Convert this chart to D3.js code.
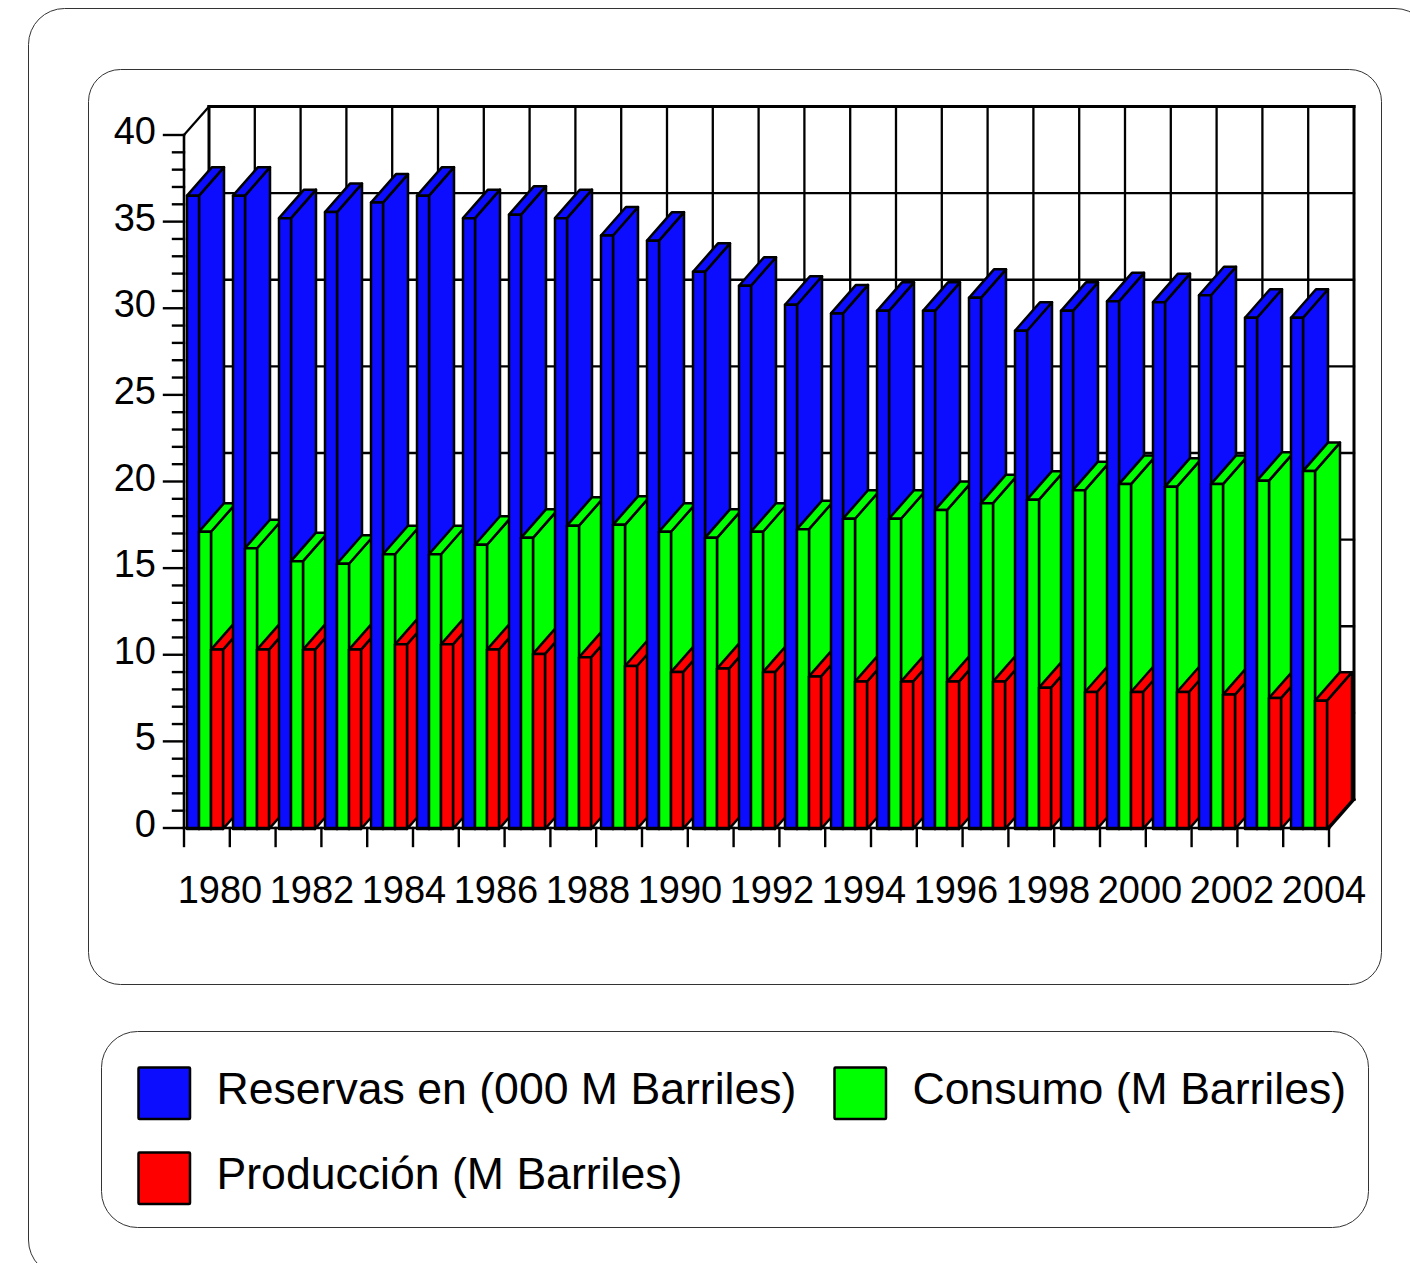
<!DOCTYPE html>
<html><head><meta charset="utf-8">
<script src="https://cdn.jsdelivr.net/npm/d3@7/dist/d3.min.js"></script>
<style>html,body{margin:0;padding:0;background:#fff;overflow:hidden}svg{display:block}text{font-family:"Liberation Sans",Arial,sans-serif;fill:#000}</style>
</head><body><svg id="c" width="1410" height="1263"></svg>
<script>
const years = d3.range(1980, 2005);
const seriesNames = ["Reservas en (000 M Barriles)", "Consumo (M Barriles)", "Producción (M Barriles)"];
const seriesColors = ["#0c0cff", "#00ff00", "#ff0000"];
const reservas = [36.5,36.5,35.2,35.55,36.1,36.5,35.2,35.4,35.2,34.2,33.9,32.1,31.3,30.2,29.7,29.85,29.85,30.6,28.7,29.85,30.4,30.35,30.75,29.45,29.45];
const consumo = [17.1,16.15,15.4,15.25,15.8,15.8,16.35,16.75,17.45,17.5,17.1,16.75,17.1,17.25,17.85,17.85,18.35,18.75,18.95,19.5,19.85,19.7,19.85,20.05,20.6];
const produccion = [10.3,10.3,10.3,10.3,10.6,10.6,10.3,10.05,9.85,9.35,9.0,9.2,9.0,8.75,8.45,8.45,8.45,8.45,8.1,7.85,7.85,7.85,7.7,7.5,7.35];
const seriesValues = [reservas, consumo, produccion];
const yTicks = d3.range(0, 41, 5);
const yMinor = d3.range(0, 41, 1);

const svg = d3.select("#c");
const depthX = 25, depthY = 28.5, FS = 38;
const y = d3.scaleLinear().domain([0, 40]).range([828, 135]);
const xAxis = d3.scaleLinear().domain([0, years.length]).range([184, 1329]);
const xBar = d3.scaleBand().domain(years).range([187, 1337]);
const xSer = d3.scaleBand().domain([0, 1, 2]).range([0, 36]);

// panels
const panel = (x, y0, w, h, r) => svg.append("rect").attr("x", x).attr("y", y0).attr("width", w).attr("height", h)
  .attr("rx", r).attr("ry", r).attr("fill", "none").attr("stroke", "#333").attr("stroke-width", 1);
panel(28.5, 8.5, 1402.5, 1267.5, 36);
panel(88.5, 69.5, 1293, 915, 32);
panel(101.5, 1031.5, 1267, 196, 36);

const line = (a, b, c, d, w) => svg.append("line").attr("x1", a).attr("y1", b).attr("x2", c).attr("y2", d)
  .attr("stroke", "#000").attr("stroke-width", w).attr("stroke-linecap", "square");

// back wall grid
yTicks.forEach(v => line(xAxis(0) + depthX, y(v) - depthY, xAxis(years.length) + depthX, y(v) - depthY, v === 40 ? 3 : 2.3));
d3.range(0, years.length + 1).forEach(i => line(xAxis(i) + depthX, y(40) - depthY, xAxis(i) + depthX, y(0) - depthY, (i === 0 || i === years.length) ? 3 : 2.3));
line(xAxis(0), y(40), xAxis(0) + depthX, y(40) - depthY, 2.3);
line(xAxis(years.length), y(0), xAxis(years.length) + depthX, y(0) - depthY, 3);

// y axis
line(xAxis(0), y(0), xAxis(0), y(40), 2.6);
yMinor.forEach(v => line(v % 5 === 0 ? 164 : 173, y(v), xAxis(0), y(v), 2.4));
svg.append("g").selectAll("text").data(yTicks).join("text")
  .attr("x", 156).attr("y", d => y(d) + 9).attr("text-anchor", "end").attr("font-size", FS).text(d => d);

// bars
const poly = (g, pts, fill) => g.append("polygon").attr("points", pts.map(p => p.join(",")).join(" "))
  .attr("fill", fill).attr("stroke", "#000").attr("stroke-width", 2.5).attr("stroke-linejoin", "round");
const gb = svg.append("g");
years.forEach((yr, i) => {
  seriesValues.forEach((vals, s) => {
    const x0 = xBar(yr) + xSer(s), x1 = x0 + xSer.bandwidth();
    const t = y(vals[i]), b = y(0) + 1;
    const c = seriesColors[s];
    poly(gb, [[x1, t], [x1 + depthX, t - depthY], [x1 + depthX, b - depthY], [x1, b]], c);
    poly(gb, [[x0, t], [x0 + depthX, t - depthY], [x1 + depthX, t - depthY], [x1, t]], c);
    poly(gb, [[x0, t], [x1, t], [x1, b], [x0, b]], c);
  });
});

// x axis
line(xAxis(0), y(0), xAxis(years.length), y(0), 2.5);
d3.range(0, years.length + 1).forEach(i => line(xAxis(i), y(0), xAxis(i), 846, 2.4));
svg.append("g").selectAll("text").data(years.filter(d => d % 2 === 0)).join("text")
  .attr("x", d => xBar(d) + xBar.bandwidth() / 2 + 10).attr("y", 903).attr("text-anchor", "middle")
  .attr("font-size", FS).text(d => d);

// legend
const legendCols = [138.5, 834.5, 138.5], legendRows = [1067.5, 1067.5, 1152.5];
seriesNames.forEach((n, i) => {
  svg.append("rect").attr("x", legendCols[i]).attr("y", legendRows[i]).attr("width", 51.5).attr("height", 51.5)
    .attr("rx", 1).attr("fill", seriesColors[i]).attr("stroke", "#000").attr("stroke-width", 2.5);
  svg.append("text").attr("x", legendCols[i] + 78).attr("y", legendRows[i] + 36).attr("font-size", 44.6).text(n);
});
</script></body></html>
